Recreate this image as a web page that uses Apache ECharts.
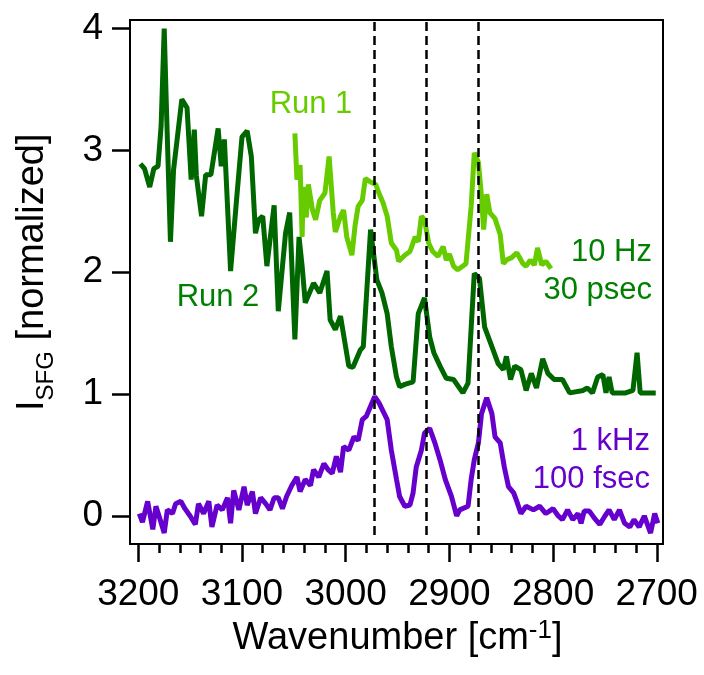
<!DOCTYPE html>
<html><head><meta charset="utf-8">
<script src="https://cdn.jsdelivr.net/npm/echarts@6/dist/echarts.min.js"></script>
<style>html,body{margin:0;padding:0;background:#fff}#c{width:704px;height:675px}</style>
</head><body><div id="c"></div>
<script>
// Run 2 (10 Hz / 30 psec, dark green)
const run2W = [3198,3194,3189,3185,3181,3178,3175,3173,3169,3166,3158,3153,3149,3146,3144,3139,3135,3130,3123,3120,3117,3111,3105,3100,3095,3091,3087,3084,3080,3076,3069,3065,3058,3054,3049,3045,3042,3039,3031,3025,3018,3015,3010,3005,2997,2993,2986,2983,2976,2970,2965,2960,2956,2951,2948,2943,2935,2930,2924,2919,2915,2909,2903,2896,2887,2882,2876,2871,2866,2859,2853,2848,2845,2841,2837,2831,2826,2821,2816,2813,2810,2805,2799,2791,2784,2771,2767,2762,2757,2752,2749,2746,2743,2730,2723,2719,2716,2701];
const run2Y = [2.89,2.85,2.70,2.85,2.87,3.20,4.00,3.39,2.25,2.84,3.42,3.35,2.76,3.17,2.79,2.46,2.80,2.80,3.18,2.87,3.09,2.01,2.62,3.11,3.16,2.95,2.32,2.43,2.46,2.05,2.55,1.68,2.32,2.49,1.45,2.29,2.05,1.75,1.91,1.83,2.01,1.61,1.53,1.64,1.23,1.22,1.36,1.39,2.35,1.94,1.83,1.66,1.39,1.14,1.06,1.08,1.10,1.66,1.79,1.47,1.34,1.23,1.13,1.12,1.01,1.09,1.99,1.95,1.55,1.39,1.25,1.20,1.31,1.12,1.23,1.20,1.03,1.17,1.05,1.17,1.29,1.17,1.12,1.12,1.01,1.03,1.05,1.01,1.14,1.16,1.01,1.14,1.01,1.01,1.03,1.34,1.01,1.01];
// Run 1 (light green)
const run1W = [3049,3047,3044,3042,3041,3038,3036,3032,3029,3025,3020,3016,3012,3010,3005,3002,2999,2994,2991,2988,2984,2981,2976,2971,2968,2964,2960,2956,2951,2949,2943,2938,2933,2930,2927,2924,2920,2916,2911,2906,2903,2900,2896,2892,2884,2879,2876,2872,2869,2867,2864,2861,2856,2851,2848,2845,2840,2835,2829,2826,2822,2818,2815,2811,2807,2802];
const run1Y = [3.14,2.76,2.88,2.29,2.70,2.45,2.72,2.51,2.43,2.59,2.65,2.95,2.49,2.33,2.46,2.51,2.29,2.14,2.38,2.54,2.59,2.77,2.74,2.72,2.65,2.57,2.46,2.24,2.18,2.09,2.14,2.17,2.29,2.25,2.46,2.43,2.24,2.17,2.13,2.21,2.10,2.15,2.05,2.02,2.07,2.54,2.98,2.90,2.62,2.35,2.64,2.49,2.44,2.31,2.07,2.10,2.12,2.16,2.07,2.05,2.10,2.06,2.20,2.06,2.09,2.03];
// 1 kHz / 100 fsec (purple)
const khzW = [3199,3196,3191,3186,3183,3180,3175,3172,3167,3164,3159,3155,3150,3145,3142,3137,3132,3129,3124,3119,3114,3111,3108,3103,3098,3095,3090,3087,3082,3077,3073,3069,3065,3061,3057,3052,3047,3044,3039,3034,3031,3026,3021,3017,3013,3009,3005,3002,2997,2992,2988,2984,2980,2976,2972,2968,2964,2960,2956,2951,2948,2943,2938,2935,2932,2927,2924,2919,2914,2909,2904,2898,2893,2890,2882,2879,2876,2872,2869,2864,2859,2856,2851,2847,2843,2838,2835,2831,2826,2819,2813,2807,2800,2795,2791,2786,2781,2776,2773,2770,2765,2760,2755,2750,2746,2741,2736,2731,2726,2722,2717,2712,2706,2702,2699];
const khzY = [0.02,-0.05,0.12,-0.11,0.08,0.00,-0.14,0.05,0.02,0.10,0.12,0.06,0.00,-0.07,0.10,0.02,0.12,-0.09,0.09,0.05,0.15,-0.06,0.21,0.05,0.24,0.09,0.20,0.02,0.15,0.10,0.05,0.15,0.15,0.06,0.16,0.25,0.32,0.20,0.30,0.25,0.38,0.32,0.43,0.38,0.35,0.49,0.36,0.57,0.54,0.65,0.62,0.79,0.82,0.90,0.98,0.93,0.86,0.79,0.54,0.30,0.16,0.08,0.09,0.19,0.40,0.54,0.68,0.72,0.60,0.46,0.30,0.16,0.00,0.05,0.08,0.30,0.46,0.60,0.84,0.97,0.84,0.65,0.60,0.40,0.24,0.19,0.12,0.02,0.08,0.05,0.08,0.02,0.06,0.00,-0.03,0.05,-0.03,0.02,-0.06,0.04,0.04,-0.02,-0.07,0.00,0.05,-0.03,0.05,-0.06,-0.09,-0.03,-0.09,0.00,-0.14,0.02,-0.06];

// axes: ticks every 100 cm-1 (minor every 20), y ticks every 1
const xTickRange = [2700,3200];
const xTickStep = 100;
const yTickRange = [0,4];
const yTickStep = 1;
const peakLines = [2972,2922,2872];
const peakLineBottom = -0.157;
const xRange = [2694,3208];   // frame extent
const yRange = [-0.23,4.07];  // frame extent

const FONT = '"Liberation Sans", Arial, sans-serif';
const zip = (w,y)=>w.map((v,i)=>[v,y[i]]);
const black = '#000';
const tickColor = '#000';

const W = 704, H = 675;
const G = {left:130, right:41, top:20, bottom:131};
const plotW = W - G.left - G.right, plotH = H - G.top - G.bottom;
const pxX = plotW/(xRange[1]-xRange[0]);
const pxY = plotH/(yRange[1]-yRange[0]);
const T = {
  left: G.left + (xRange[1]-xTickRange[1])*pxX,
  right: G.right + (xTickRange[0]-xRange[0])*pxX,
  top: G.top + (yRange[1]-yTickRange[1])*pxY,
  bottom: G.bottom + (yTickRange[0]-yRange[0])*pxY
};

const chart = echarts.init(document.getElementById('c'));
const option = {
  animation:false,
  backgroundColor:'#fff',
  grid:[
    {left:G.left,right:G.right,top:G.top,bottom:G.bottom,show:true,borderColor:black,borderWidth:2},
    {left:T.left,right:T.right,top:T.top,bottom:T.bottom,show:false}
  ],
  xAxis:[{
    gridIndex:0,type:'value',min:xRange[0],max:xRange[1],inverse:true,
    axisLine:{show:false},axisTick:{show:false},axisLabel:{show:false},splitLine:{show:false}
  },{
    gridIndex:1,type:'value',min:xTickRange[0],max:xTickRange[1],interval:xTickStep,inverse:true,
    offset:T.bottom - G.bottom,
    axisLine:{show:true,onZero:false,lineStyle:{color:black,width:2}},
    splitLine:{show:false},
    axisTick:{show:true,length:18,lineStyle:{color:tickColor,width:2.5}},
    minorTick:{show:true,splitNumber:5,length:9,lineStyle:{color:tickColor,width:2.5}},
    axisLabel:{margin:32,fontSize:37,color:black,fontFamily:FONT,formatter:v=>String(v)},
    name:'{a|Wavenumber [cm}{s|-1}{a|]}',nameLocation:'middle',nameGap:67,
    nameTextStyle:{rich:{
      a:{fontSize:38,fontFamily:FONT,color:black,lineHeight:40,verticalAlign:'bottom'},
      s:{fontSize:26,fontFamily:FONT,color:black,lineHeight:26,verticalAlign:'top',padding:[0,0,26,0]}
    }}
  }],
  yAxis:[{
    gridIndex:0,type:'value',min:yRange[0],max:yRange[1],
    axisLine:{show:false},axisTick:{show:false},axisLabel:{show:false},splitLine:{show:false}
  },{
    gridIndex:1,type:'value',min:yTickRange[0],max:yTickRange[1],interval:yTickStep,
    offset:T.left - G.left,
    axisLine:{show:true,onZero:false,lineStyle:{color:black,width:2}},
    splitLine:{show:false},
    axisTick:{show:true,length:18,lineStyle:{color:tickColor,width:2.5}},
    axisLabel:{margin:27,fontSize:37,color:black,fontFamily:FONT,formatter:v=>String(v)},
    name:'{a|I}{b|SFG}{a| [normalized]}',nameLocation:'middle',nameGap:78,
    nameTextStyle:{rich:{
      a:{fontSize:38,fontFamily:FONT,color:black,lineHeight:40,verticalAlign:'bottom'},
      b:{fontSize:24,fontFamily:FONT,color:black,lineHeight:40,verticalAlign:'bottom',padding:[0,0,-6,0]}
    }}
  }],
  series:[
    {type:'line',name:'Run 2',xAxisIndex:0,yAxisIndex:0,data:zip(run2W,run2Y),symbol:'none',
     lineStyle:{color:'#006600',width:5},z:2},
    {type:'line',name:'Run 1',xAxisIndex:0,yAxisIndex:0,data:zip(run1W,run1Y),symbol:'none',
     lineStyle:{color:'#66cc00',width:5},z:3},
    {type:'line',name:'1 kHz',xAxisIndex:0,yAxisIndex:0,data:zip(khzW,khzY),symbol:'none',
     lineStyle:{color:'#6600cc',width:5},z:4,
     markLine:{silent:true,symbol:'none',label:{show:false},
       lineStyle:{color:black,width:2.5,type:[9,5]},
       data:peakLines.map(w=>[{coord:[w,peakLineBottom]},{coord:[w,yRange[1]]}])}
    }
  ],
  graphic:[
    {type:'text',x:311,y:104,style:{text:'Run 1',fill:'#66cc00',font:'31px '+FONT,textAlign:'center',textVerticalAlign:'middle'}},
    {type:'text',x:218,y:297,style:{text:'Run 2',fill:'#008000',font:'31px '+FONT,textAlign:'center',textVerticalAlign:'middle'}},
    {type:'text',x:652,y:252,style:{text:'10 Hz',fill:'#008000',font:'31px '+FONT,textAlign:'right',textVerticalAlign:'middle'}},
    {type:'text',x:652,y:290,style:{text:'30 psec',fill:'#008000',font:'31px '+FONT,textAlign:'right',textVerticalAlign:'middle'}},
    {type:'text',x:650,y:441,style:{text:'1 kHz',fill:'#6600cc',font:'31px '+FONT,textAlign:'right',textVerticalAlign:'middle'}},
    {type:'text',x:650,y:479,style:{text:'100 fsec',fill:'#6600cc',font:'31px '+FONT,textAlign:'right',textVerticalAlign:'middle'}}
  ]
};
chart.setOption(option);
</script></body></html>
